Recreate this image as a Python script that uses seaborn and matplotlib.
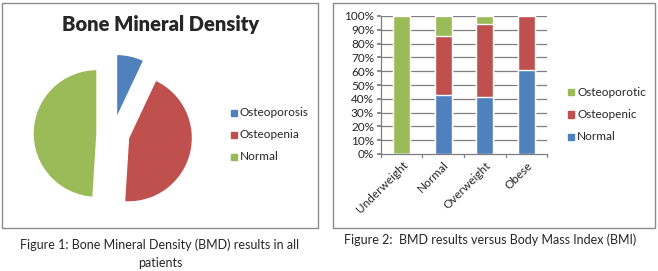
import numpy as np
import pandas as pd
import seaborn as sns
import matplotlib.pyplot as plt
from matplotlib.patches import Rectangle

# pie data (percent of all patients)
pie_labels = ['Osteoporosis', 'Osteopenia', 'Normal']
pie_values = [7, 44, 49]

# stacked bar data (percent within BMI group)
bmi_groups = ['Underweight', 'Normal', 'Overweight', 'Obese']
normal_pct = [0, 42.5, 41, 61]
osteopenic_pct = [0, 43, 53, 39]
osteoporotic_pct = [100, 14.5, 6, 0]
yticks = [0, 10, 20, 30, 40, 50, 60, 70, 80, 90, 100]

blue, red, green = '#4F81BD', '#C0504D', '#9BBB59'

sns.set_theme(style='white')
plt.rcParams['font.family'] = ['Lato', 'DejaVu Sans']

fig = plt.figure(figsize=(6.58, 2.71), dpi=100)
W, H = 658, 271

def fx(px):
    return px / W

def fy(py):
    return 1 - py / H

# panel borders
for x0, x1 in [(2, 318), (333, 655)]:
    fig.patches.append(Rectangle((fx(x0), fy(228)), fx(x1 - x0), (228 - 3) / H,
                                 transform=fig.transFigure, fill=False,
                                 edgecolor='#8c8c8c', lw=1.0))

# ---- pie ----
cx, cy, r = 113, 134, 64
S = 3 * r
ax1 = fig.add_axes([fx(cx - S / 2), fy(cy + S / 2), S / W, S / H])
ax1.pie(pie_values, colors=[blue, red, green], startangle=90, counterclock=False,
        explode=[0.25, 0.25, 0.25], radius=1.0)
ax1.set_xlim(-1.5, 1.5)
ax1.set_ylim(-1.5, 1.5)
ax1.set_aspect('equal')
ax1.axis('off')

fig.text(fx(161), fy(25), 'Bone Mineral Density', ha='center', va='center',
         fontsize=14.5, fontweight='heavy')
for i, (lab, col) in enumerate(zip(pie_labels, [blue, red, green])):
    y = 113 + i * 22
    fig.patches.append(Rectangle((fx(231), fy(y + 3)), fx(6), 6 / H,
                                 transform=fig.transFigure, color=col))
    fig.text(fx(240), fy(y), lab, ha='left', va='center', fontsize=8.5)

fig.text(fx(160), fy(245), 'Figure 1: Bone Mineral Density (BMD) results in all',
         ha='center', va='center', fontsize=9)
fig.text(fx(160), fy(263), 'patients', ha='center', va='center', fontsize=9)

# ---- stacked bars ----
df = pd.DataFrame({'group': bmi_groups, 'Normal': normal_pct,
                   'Osteopenic': osteopenic_pct, 'Osteoporotic': osteoporotic_pct})
df['cum_red'] = df['Normal'] + df['Osteopenic']
df['cum_total'] = df['cum_red'] + df['Osteoporotic']

ax2 = fig.add_axes([fx(381), fy(154), fx(547 - 381), (154 - 16) / H])
for ax_y in yticks[1:]:
    ax2.axhline(ax_y, color='#7f7f7f', lw=0.9, zorder=0)
sns.barplot(data=df, x='group', y='cum_total', color=green, width=0.4,
            saturation=1, ax=ax2, zorder=2)
sns.barplot(data=df, x='group', y='cum_red', color=red, width=0.4,
            saturation=1, ax=ax2, zorder=2)
sns.barplot(data=df, x='group', y='Normal', color=blue, width=0.4,
            saturation=1, ax=ax2, zorder=2)
ax2.set_xlim(-0.5, len(bmi_groups) - 0.5)
ax2.set_ylim(0, 100)
ax2.set_xlabel('')
ax2.set_ylabel('')
ax2.set_yticks(yticks)
ax2.set_yticklabels([f'{v}%' for v in yticks], fontsize=8.5)
ax2.set_xticks(range(len(bmi_groups)))
ax2.set_xticklabels(bmi_groups, rotation=45, ha='right', rotation_mode='anchor',
                    fontsize=8.5)
ax2.tick_params(axis='x', length=0, pad=4)
ax2.tick_params(axis='y', length=3, color='#7f7f7f', pad=2, direction='out', left=True)
# category boundary tick marks
for b in np.arange(-0.5, len(bmi_groups), 1.0):
    ax2.plot([b, b], [0, -2.5], color='#7f7f7f', lw=0.9, clip_on=False)
for side in ['top', 'right']:
    ax2.spines[side].set_visible(False)
for side in ['left', 'bottom']:
    ax2.spines[side].set_color('#7f7f7f')
    ax2.spines[side].set_linewidth(0.9)

for i, (lab, col) in enumerate(zip(['Osteoporotic', 'Osteopenic', 'Normal'],
                                   [green, red, blue])):
    y = 92 + i * 22.5
    fig.patches.append(Rectangle((fx(568), fy(y + 3)), fx(6), 6 / H,
                                 transform=fig.transFigure, color=col))
    fig.text(fx(577), fy(y), lab, ha='left', va='center', fontsize=8.5)

fig.text(fx(490), fy(240), 'Figure 2:  BMD results versus Body Mass Index (BMI)',
         ha='center', va='center', fontsize=9)

fig.savefig('out.png', dpi=100, facecolor='white')
